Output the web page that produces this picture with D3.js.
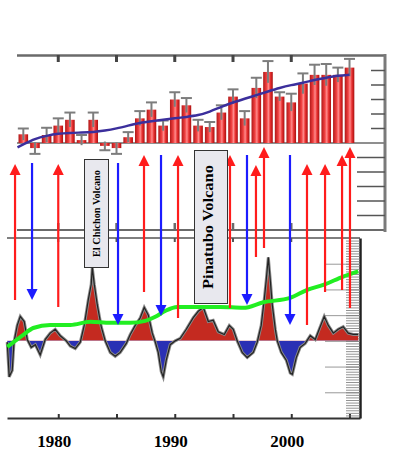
<!DOCTYPE html>
<html>
<head>
<meta charset="utf-8">
<script src="https://cdn.jsdelivr.net/npm/d3@7"></script>
<style>
html, body { margin: 0; padding: 0; background: #fff; }
svg { display: block; }
</style>
</head>
<body>
<div id="chart"></div>
<script>
// top panel: yearly anomalies with error bars
var barYears = [1977,1978,1979,1980,1981,1982,1983,1984,1985,1986,1987,1988,1989,1990,1991,
	1992,1993,1994,1995,1996,1997,1998,1999,2000,2001,2002,2003,2004,2005];
var barValues = [0.06,-0.035,0.055,0.12,0.16,0.02,0.16,-0.02,-0.035,0.04,0.17,0.23,0.12,0.30,0.26,
	0.12,0.11,0.21,0.32,0.17,0.38,0.49,0.32,0.28,0.41,0.47,0.47,0.47,0.52];
var barErrors = [0.04,0.04,0.05,0.05,0.05,0.035,0.05,0.03,0.04,0.035,0.05,0.05,0.035,0.05,0.05,
	0.04,0.035,0.05,0.05,0.05,0.07,0.075,0.03,0.06,0.07,0.07,0.075,0.05,0.06];

// top panel: smooth blue trend
var topTrendYears = [1976.5,1977,1978,1979,1980,1981,1982,1983,1984,1985,1986,1987,1988,1989,1990,
	1991,1992,1993,1994,1995,1996,1997,1998,1999,2000,2001,2002,2003,2004,2005];
var topTrendValues = [-0.03,-0.01,0.03,0.05,0.065,0.07,0.072,0.075,0.085,0.10,0.12,0.14,0.15,0.16,0.17,
	0.18,0.19,0.215,0.25,0.28,0.305,0.33,0.355,0.38,0.40,0.415,0.435,0.45,0.465,0.47];

// bottom panel: anomaly curve
var anomTimes = [1975.62,1975.79,1976.05,1976.2,1976.48,1976.74,1977.08,1977.34,1977.68,1978.03,
	1978.45,1978.88,1979.31,1979.74,1980.17,1980.69,1981.03,1981.46,1981.89,1982.23,
	1982.58,1982.83,1982.92,1983.09,1983.35,1983.69,1984.03,1984.46,1984.89,1985.32,
	1985.84,1986.18,1986.61,1987.04,1987.38,1987.73,1988.07,1988.33,1988.58,1988.84,
	1989.01,1989.27,1989.61,1990.04,1990.47,1990.99,1991.59,1992.02,1992.45,1992.88,
	1993.30,1993.73,1994.25,1994.68,1995.02,1995.36,1995.79,1996.22,1996.74,1997.08,
	1997.42,1997.68,1997.85,1998.03,1998.20,1998.37,1998.63,1998.80,1999.14,1999.57,
	1999.91,2000.09,2000.43,2000.77,2001.20,2001.63,2002.06,2002.40,2002.83,2003.18,
	2003.61,2004.03,2004.46,2004.89,2005.32,2005.75];
var anomValues = [-0.01,-0.28,-0.23,-0.01,0.12,0.19,0.15,0.01,-0.05,-0.03,
	-0.11,0.01,0.06,0.09,0.04,0.0,-0.04,-0.06,-0.01,0.12,
	0.32,0.44,0.57,0.44,0.28,0.11,0.0,-0.09,-0.12,-0.09,
	-0.02,0.05,0.12,0.18,0.26,0.20,0.06,-0.01,-0.09,-0.24,
	-0.28,-0.15,-0.03,0.0,0.02,0.09,0.18,0.23,0.26,0.15,
	0.16,0.07,0.05,0.12,0.09,0.0,-0.09,-0.13,-0.09,-0.01,
	0.12,0.32,0.47,0.65,0.47,0.28,0.09,0.0,-0.09,-0.15,
	-0.25,-0.26,-0.13,-0.05,-0.02,0.04,0.01,0.09,0.19,0.12,
	0.06,0.09,0.11,0.06,0.05,0.05];

// bottom panel: green trend
var greenTimes = [1975.62,1977.0,1977.85,1979.31,1981.03,1982.75,1984.46,1986.18,1987.47,1988.33,
	1989.18,1990.21,1992.19,1993.91,1995.88,1997.6,1999.91,2001.37,2002.75,2004.46,2005.75];
var greenValues = [-0.047,0.047,0.10,0.124,0.124,0.148,0.14,0.14,0.155,0.187,
	0.233,0.264,0.264,0.264,0.257,0.30,0.334,0.397,0.435,0.50,0.54];

// arrows
var arrowYears = [1976.29,1977.75,1980.0,1985.13,1987.36,1988.82,1990.28,1994.74,1996.2,1996.97,
	1997.66,1999.89,2001.35,2002.9,2004.36,2005.04];
var arrowDirs = ['up','down','up','down','up','down','up','up','down','up','up','down','up','up','up','up'];

var tickYears = [1980, 1985, 1990, 1995, 2000, 2005];
var labelYears = [1980, 1990, 2000];

var width = 399, height = 469;
var svg = d3.select('#chart').append('svg').attr('width', width).attr('height', height);

var x = d3.scaleLinear().domain([1975.6, 2005.9]).range([7, 360]);
var yTop = d3.scaleLinear().domain([-0.6, 0.6]).range([230, 56]);
var yBot = d3.scaleLinear().domain([-0.6, 0.8]).range([418, 238]);

var defs = svg.append('defs');
var grad = defs.append('linearGradient').attr('id', 'barGrad').attr('x1', 0).attr('x2', 1).attr('y1', 0).attr('y2', 0);
grad.append('stop').attr('offset', '0%').attr('stop-color', '#b01818');
grad.append('stop').attr('offset', '35%').attr('stop-color', '#f04040');
grad.append('stop').attr('offset', '55%').attr('stop-color', '#ff8a8a');
grad.append('stop').attr('offset', '75%').attr('stop-color', '#e83030');
grad.append('stop').attr('offset', '100%').attr('stop-color', '#a81010');

defs.append('clipPath').attr('id', 'clipUp').append('rect')
	.attr('x', 0).attr('y', 0).attr('width', width).attr('height', yBot(0));
defs.append('clipPath').attr('id', 'clipDown').append('rect')
	.attr('x', 0).attr('y', yBot(0)).attr('width', width).attr('height', height);

// ---- top panel frame
var frame = svg.append('g').attr('stroke', '#6a6a6a').attr('fill', 'none');
frame.append('line').attr('x1', 17).attr('x2', 385).attr('y1', 55.5).attr('y2', 55.5).attr('stroke-width', 2.5);
frame.append('line').attr('x1', 17).attr('x2', 385).attr('y1', yTop(0)).attr('y2', yTop(0)).attr('stroke-width', 1.5);
frame.append('line').attr('x1', 17).attr('x2', 385).attr('y1', yTop(-0.6)).attr('y2', yTop(-0.6)).attr('stroke-width', 2);
frame.append('line').attr('x1', 385).attr('x2', 385).attr('y1', 54).attr('y2', 232).attr('stroke-width', 3).attr('stroke', '#7a7a7a');

frame.selectAll('line.ttick').data(tickYears.slice(0, 5)).join('line')
	.attr('x1', function(d) { return x(d); }).attr('x2', function(d) { return x(d); })
	.attr('y1', 55).attr('y2', 62).attr('stroke-width', 3).attr('stroke', '#444');
frame.selectAll('line.btick').data(tickYears.slice(0, 5)).join('line')
	.attr('x1', function(d) { return x(d); }).attr('x2', function(d) { return x(d); })
	.attr('y1', 230).attr('y2', 223).attr('stroke-width', 2.5);

var topTicks = [-0.5,-0.4,-0.3,-0.2,-0.1,0.1,0.2,0.3,0.4,0.5];
frame.selectAll('line.rtick').data(topTicks).join('line')
	.attr('x1', function(d) { return d > 0 ? 371 : 357; }).attr('x2', 385)
	.attr('y1', function(d) { return yTop(d); }).attr('y2', function(d) { return yTop(d); })
	.attr('stroke-width', 1.5).attr('stroke', '#555');

// ---- bars
svg.append('g').selectAll('rect').data(barYears).join('rect')
	.attr('x', function(d) { return x(d) - 4.8; })
	.attr('width', 9.6)
	.attr('y', function(d, i) { return yTop(Math.max(0, barValues[i])); })
	.attr('height', function(d, i) { return Math.abs(yTop(barValues[i]) - yTop(0)); })
	.attr('fill', 'url(#barGrad)');

var err = svg.append('g').attr('stroke', '#7d7d7d');
err.selectAll('line.stem').data(barYears).join('line')
	.attr('x1', function(d) { return x(d); }).attr('x2', function(d) { return x(d); })
	.attr('y1', function(d, i) { return yTop(barValues[i] - barErrors[i]); })
	.attr('y2', function(d, i) { return yTop(barValues[i] + barErrors[i]); })
	.attr('stroke-width', 2);
err.selectAll('line.cap').data(barYears).join('line')
	.attr('x1', function(d) { return x(d) - 5.5; }).attr('x2', function(d) { return x(d) + 5.5; })
	.attr('y1', function(d, i) { var v = barValues[i]; return yTop(v + (v >= 0 ? barErrors[i] : -barErrors[i])); })
	.attr('y2', function(d, i) { var v = barValues[i]; return yTop(v + (v >= 0 ? barErrors[i] : -barErrors[i])); })
	.attr('stroke-width', 2);

svg.append('path')
	.datum(topTrendYears)
	.attr('fill', 'none').attr('stroke', '#3b2f9c').attr('stroke-width', 2.5)
	.attr('d', d3.line()
		.x(function(d) { return x(d); })
		.y(function(d, i) { return yTop(topTrendValues[i]); })
		.curve(d3.curveBasis));

// ---- bottom panel frame
var bframe = svg.append('g').attr('fill', 'none');
bframe.append('line').attr('x1', 7).attr('x2', 360).attr('y1', yBot(0.8)).attr('y2', yBot(0.8))
	.attr('stroke', '#555').attr('stroke-width', 1.5);
bframe.selectAll('line.tt').data(tickYears.slice(0, 5)).join('line')
	.attr('x1', function(d) { return x(d); }).attr('x2', function(d) { return x(d); })
	.attr('y1', 238).attr('y2', 242).attr('stroke', '#555').attr('stroke-width', 2);

var xAxis = svg.append('g').attr('transform', 'translate(0,' + yBot(-0.6) + ')')
	.call(d3.axisBottom(x).tickValues(tickYears).tickSize(-4).tickSizeOuter(0).tickFormat(''));
xAxis.select('.domain').attr('stroke', '#333').attr('stroke-width', 2);
xAxis.selectAll('.tick line').attr('stroke', '#333').attr('stroke-width', 2);

var majorTicks = [-0.4,-0.2,0,0.2,0.4,0.6];
var minorTicks = d3.range(-58, 80, 2).map(function(d) { return d / 100; });
var rAxisMajor = svg.append('g').attr('transform', 'translate(360,0)')
	.call(d3.axisRight(yBot).tickValues(majorTicks).tickSize(-35).tickSizeOuter(0).tickFormat(''));
rAxisMajor.select('.domain').attr('stroke', '#222').attr('stroke-width', 2.5);
rAxisMajor.selectAll('.tick line').attr('stroke', '#999').attr('stroke-width', 1);
var rAxisMinor = svg.append('g').attr('transform', 'translate(360,0)')
	.call(d3.axisRight(yBot).tickValues(minorTicks).tickSize(-14).tickSizeOuter(0).tickFormat(''));
rAxisMinor.select('.domain').remove();
rAxisMinor.selectAll('.tick line').attr('stroke', '#777').attr('stroke-width', 0.8);

// ---- anomaly curve
var area = d3.area()
	.x(function(d) { return x(d); })
	.y0(yBot(0))
	.y1(function(d, i) { return yBot(anomValues[i]); });
var outline = d3.line()
	.x(function(d) { return x(d); })
	.y(function(d, i) { return yBot(anomValues[i]); });

svg.append('path').datum(anomTimes).attr('d', area).attr('fill', '#c42a20').attr('clip-path', 'url(#clipUp)');
svg.append('path').datum(anomTimes).attr('d', area).attr('fill', '#2a30b4').attr('clip-path', 'url(#clipDown)');
svg.append('path').datum(anomTimes).attr('d', outline)
	.attr('fill', 'none').attr('stroke', '#8a8a8a').attr('stroke-width', 3);
svg.append('path').datum(anomTimes).attr('d', outline)
	.attr('fill', 'none').attr('stroke', '#222').attr('stroke-width', 1.2);

svg.append('path').datum(greenTimes)
	.attr('fill', 'none').attr('stroke', '#22ee22').attr('stroke-width', 4)
	.attr('d', d3.line()
		.x(function(d) { return x(d); })
		.y(function(d, i) { return yBot(greenValues[i]); })
		.curve(d3.curveMonotoneX));

// ---- arrows (vertical extents in page pixels)
var arrowSpan = [[164,300],[163,300],[164,307],[163,325],[155,292],[155,316],[155,318],[155,308],
	[155,305],[165,257],[147,248],[155,325],[164,325],[164,292],[155,290],[147,308]];
var ag = svg.append('g');
arrowYears.forEach(function(yr, i) {
	var cx = x(yr), s = arrowSpan[i], up = arrowDirs[i] === 'up';
	var col = up ? '#ff1c1c' : '#1c1cff';
	var hw = 5.5, hh = 11;
	ag.append('line').attr('x1', cx).attr('x2', cx)
		.attr('y1', up ? s[0] + hh - 1 : s[0]).attr('y2', up ? s[1] : s[1] - hh + 1)
		.attr('stroke', col).attr('stroke-width', 2.2);
	var pts = up
		? [[cx, s[0]], [cx - hw, s[0] + hh], [cx + hw, s[0] + hh]]
		: [[cx, s[1]], [cx - hw, s[1] - hh], [cx + hw, s[1] - hh]];
	ag.append('polygon').attr('points', pts.map(function(p) { return p.join(','); }).join(' ')).attr('fill', col);
});

// ---- volcano labels
function volcanoBox(bx, by, bw, bh, tx, label, size, len) {
	svg.append('rect').attr('x', bx).attr('y', by).attr('width', bw).attr('height', bh)
		.attr('fill', '#e8e8ee').attr('stroke', '#333').attr('stroke-width', 1);
	svg.append('text')
		.attr('transform', 'translate(' + tx + ',' + (by + bh / 2) + ') rotate(-90)')
		.attr('text-anchor', 'middle')
		.attr('font-family', 'Liberation Serif, Times New Roman, serif')
		.attr('font-weight', 'bold').attr('font-size', size)
		.attr('textLength', len).attr('lengthAdjust', 'spacingAndGlyphs')
		.attr('fill', '#000')
		.text(label);
}
volcanoBox(84.5, 159.5, 24, 108, 100, 'El Chichon Volcano', 10.5, 87);
volcanoBox(194.5, 150.5, 33, 153, 213, 'Pinatubo Volcano', 15.5, 124);

// ---- year labels
svg.append('g').selectAll('text').data(labelYears).join('text')
	.attr('x', function(d) { return x(d) - 4; })
	.attr('y', 447)
	.attr('text-anchor', 'middle')
	.attr('font-family', 'Liberation Serif, Times New Roman, serif')
	.attr('font-weight', 'bold').attr('font-size', 17)
	.attr('fill', '#000')
	.text(function(d) { return d; });
</script>
</body>
</html>
